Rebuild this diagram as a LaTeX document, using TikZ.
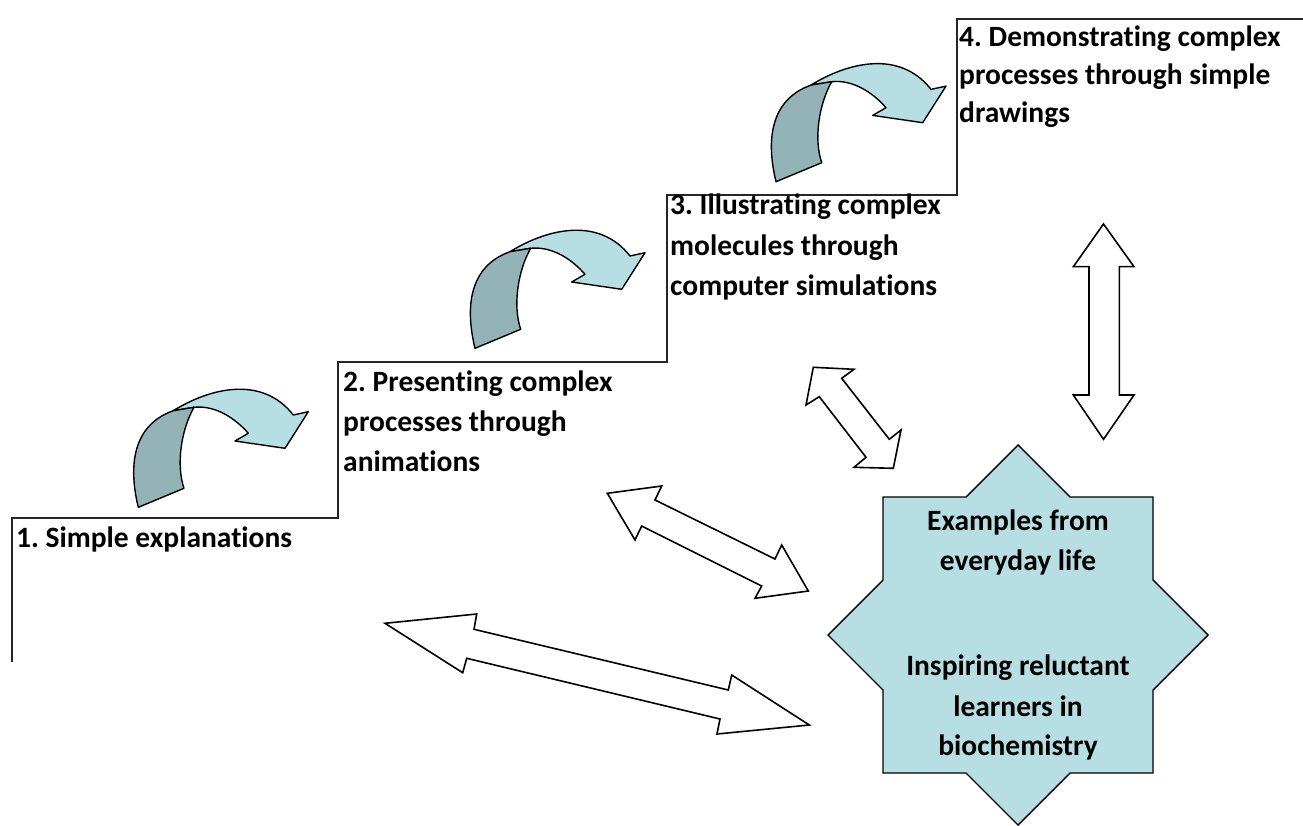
\documentclass[tikz,border=0pt]{standalone}
\usepackage{fontspec}
\setmainfont{Carlito}[Ligatures=NoCommon]
\frenchspacing
\definecolor{aqualight}{HTML}{B7DEE3}
\definecolor{aquadark}{HTML}{93B3B6}
\newcommand{\cArrow}{%
  \filldraw[arrowline,fill=aqualight] (173.3,410.7) .. controls (210,388) and (262,375) .. (293.3,415)
    -- (308.3,411.7) -- (285,448.3) -- (235,441) -- (248.3,433.3)
    .. controls (235,418) and (215,405) .. (194,407.3) -- cycle;
  \filldraw[arrowline,fill=aquadark] (138.3,507.3) .. controls (128,465) and (133,425) .. (173.3,410.7)
    -- (194,407.3) .. controls (181,430) and (176,465) .. (184,488.3) -- cycle;
}
\tikzset{
  arrowline/.style={draw=black,line width=1.4pt,line join=round},
  stair/.style={draw=black!85,line width=1.8pt},
  lbl/.style={anchor=base west,inner sep=0pt,font=\fontsize{29.5}{40}\selectfont\bfseries},
  slbl/.style={anchor=base,inner sep=0pt,font=\fontsize{29.5}{40}\selectfont\bfseries},
  dbl/.style={draw=black,line width=1.6pt,fill=white,line join=miter}
}
\begin{document}
\begin{tikzpicture}[x=1pt,y=-1pt]
\useasboundingbox (0,0) rectangle (1303,826);
% staircase
\draw[stair] (12,662) -- (12,518) -- (338,518) -- (338,362) -- (667,362) -- (667,195) -- (957,195) -- (957,19) -- (1303,19);
% curved arrows
\cArrow
\begin{scope}[shift={(336.7,-159)}]\cArrow\end{scope}
\begin{scope}[shift={(637.7,-325.6)}]\cArrow\end{scope}
% step labels
\node[lbl] (s1) at (16,547.7) {1. Simple explanations};
\node[lbl] (s2a) at (343,391.7) {2. Presenting complex};
\node[lbl] (s2b) at (343,431) {processes through};
\node[lbl] (s2c) at (343,471.5) {animations};
\node[lbl] (s3a) at (670,215) {3. Illustrating complex};
\node[lbl] (s3b) at (670,255) {molecules through};
\node[lbl] (s3c) at (670,295) {computer simulations};
\node[lbl] (s4a) at (959,46.7) {4. Demonstrating complex};
\node[lbl] (s4b) at (959,85) {processes through simple};
\node[lbl] (s4c) at (959,123) {drawings};
% star
\begin{scope}[shift={(1018,635)}]
\filldraw[arrowline,fill=aqualight,line join=miter] (0,-190) -- (52,-138) -- (135,-138) -- (135,-55) -- (190,0) -- (135,55) -- (135,138) -- (52,138) -- (0,190) -- (-52,138) -- (-135,138) -- (-135,55) -- (-190,0) -- (-135,-55) -- (-135,-138) -- (-52,-138) -- cycle;
\end{scope}
\node[slbl] (e1) at (1018,530.7) {Examples from};
\node[slbl] (e2) at (1018,570) {everyday life};
\node[slbl] (i1) at (1018,675) {Inspiring reluctant};
\node[slbl] (i2) at (1018,716.7) {learners in};
\node[slbl] (i3) at (1018,755) {biochemistry};
% double arrows
\filldraw[dbl] (1103.5,224) -- (1134,266.7) -- (1119.3,266.7) -- (1119.3,395) -- (1134,395) -- (1103.5,439.3) -- (1073.3,395) -- (1089,395) -- (1089,266.7) -- (1073.3,266.7) -- cycle;
\filldraw[dbl] (813.3,367.3) -- (854,369.3) -- (841.7,378.3) -- (889.3,439.3) -- (901,430) -- (893.3,468.3) -- (854,467.3) -- (866,457.3) -- (819.3,396.7) -- (806,405) -- cycle;
\filldraw[dbl] (607.3,493.3) -- (661.7,486) -- (655,500) -- (775,559) -- (781.7,545) -- (808.3,591) -- (755,598.3) -- (761.7,586) -- (641.7,526) -- (635,540) -- cycle;
\filldraw[dbl] (385,623.3) -- (476.7,614) -- (474,629.3) -- (728.3,690) -- (731.7,675) -- (809.3,725) -- (717,734) -- (720,719) -- (466.7,658.3) -- (462.7,672.7) -- cycle;
\end{tikzpicture}
\end{document}
